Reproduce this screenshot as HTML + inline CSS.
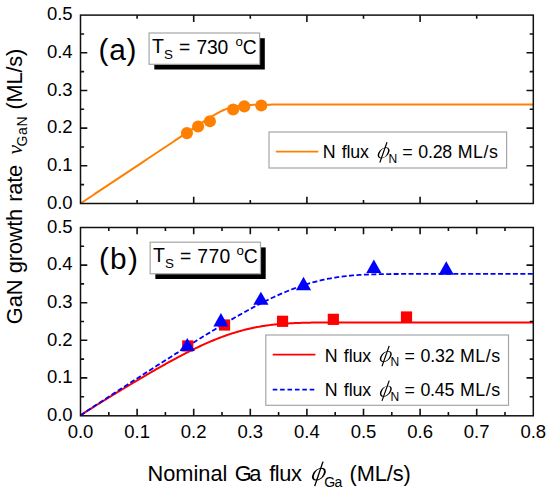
<!DOCTYPE html>
<html><head><meta charset="utf-8"><style>
html,body{margin:0;padding:0;background:#fff;width:550px;height:495px;overflow:hidden}
svg{display:block}
text{font-family:'Liberation Sans',sans-serif;fill:#000}
.phi{font-family:'Liberation Serif',serif;font-style:italic}
</style></head><body>
<svg width="550" height="495" viewBox="0 0 550 495">
<rect width="550" height="495" fill="#fff"/>
<path d="M80.50,203.50 L81.63,202.75 L82.76,201.99 L83.90,201.24 L85.03,200.49 L86.16,199.73 L87.29,198.98 L88.42,198.22 L89.56,197.47 L90.69,196.72 L91.82,195.96 L92.95,195.21 L94.08,194.46 L95.22,193.70 L96.35,192.95 L97.48,192.20 L98.61,191.44 L99.74,190.69 L100.88,189.94 L102.01,189.18 L103.14,188.43 L104.27,187.67 L105.40,186.92 L106.54,186.17 L107.67,185.41 L108.80,184.66 L109.93,183.91 L111.06,183.15 L112.20,182.40 L113.33,181.65 L114.46,180.89 L115.59,180.14 L116.72,179.38 L117.86,178.63 L118.99,177.88 L120.12,177.12 L121.25,176.37 L122.38,175.62 L123.52,174.86 L124.65,174.11 L125.78,173.36 L126.91,172.60 L128.04,171.85 L129.18,171.10 L130.31,170.34 L131.44,169.59 L132.57,168.83 L133.70,168.08 L134.84,167.33 L135.97,166.57 L137.10,165.82 L138.23,165.07 L139.36,164.31 L140.50,163.56 L141.63,162.81 L142.76,162.05 L143.89,161.30 L145.02,160.54 L146.16,159.79 L147.29,159.04 L148.42,158.28 L149.55,157.53 L150.68,156.78 L151.82,156.02 L152.95,155.27 L154.08,154.52 L155.21,153.76 L156.34,153.01 L157.48,152.26 L158.61,151.50 L159.74,150.75 L160.87,149.99 L162.00,149.24 L163.14,148.49 L164.27,147.73 L165.40,146.98 L166.53,146.23 L167.66,145.47 L168.80,144.72 L169.93,143.97 L171.06,143.21 L172.19,142.46 L173.32,141.71 L174.46,140.95 L175.59,140.20 L176.72,139.44 L177.85,138.69 L178.98,137.94 L180.12,137.18 L181.25,136.43 L182.38,135.68 L183.51,134.92 L184.64,134.17 L185.78,133.42 L186.91,132.67 L188.04,131.91 L189.17,131.16 L190.30,130.41 L191.44,129.66 L192.57,128.91 L193.70,128.16 L194.83,127.41 L195.96,126.66 L197.10,125.91 L198.23,125.16 L199.36,124.42 L200.49,123.67 L201.62,122.93 L202.76,122.19 L203.89,121.46 L205.02,120.72 L206.15,119.99 L207.28,119.27 L208.42,118.55 L209.55,117.84 L210.68,117.13 L211.81,116.44 L212.94,115.75 L214.08,115.07 L215.21,114.41 L216.34,113.76 L217.47,113.13 L218.60,112.51 L219.74,111.92 L220.87,111.35 L222.00,110.79 L223.13,110.27 L224.26,109.77 L225.40,109.30 L226.53,108.85 L227.66,108.44 L228.79,108.05 L229.92,107.69 L231.06,107.37 L232.19,107.07 L233.32,106.79 L234.45,106.55 L235.58,106.32 L236.72,106.12 L237.85,105.94 L238.98,105.78 L240.11,105.64 L241.24,105.52 L242.38,105.41 L243.51,105.31 L244.64,105.22 L245.77,105.14 L246.90,105.08 L248.04,105.02 L249.17,104.97 L250.30,104.92 L251.43,104.88 L252.56,104.85 L253.70,104.81 L254.83,104.79 L255.96,104.76 L257.09,104.74 L258.22,104.73 L259.36,104.71 L260.49,104.70 L261.62,104.68 L262.75,104.67 L263.88,104.66 L265.02,104.65 L266.15,104.65 L267.28,104.64 L268.41,104.63 L269.54,104.63 L270.68,104.63 L271.81,104.62 L272.94,104.62 L274.07,104.61 L275.20,104.61 L276.34,104.61 L277.47,104.61 L278.60,104.61 L279.73,104.60 L280.86,104.60 L282.00,104.60 L283.13,104.60 L284.26,104.60 L285.39,104.60 L286.52,104.60 L287.66,104.60 L288.79,104.60 L289.92,104.60 L291.05,104.59 L292.18,104.59 L293.32,104.59 L294.45,104.59 L295.58,104.59 L296.71,104.59 L297.84,104.59 L298.98,104.59 L300.11,104.59 L301.24,104.59 L302.37,104.59 L303.50,104.59 L304.64,104.59 L305.77,104.59 L306.90,104.59 L308.03,104.59 L309.16,104.59 L310.30,104.59 L311.43,104.59 L312.56,104.59 L313.69,104.59 L314.82,104.59 L315.96,104.59 L317.09,104.59 L318.22,104.59 L319.35,104.59 L320.48,104.59 L321.62,104.59 L322.75,104.59 L323.88,104.59 L325.01,104.59 L326.14,104.59 L327.28,104.59 L328.41,104.59 L329.54,104.59 L330.67,104.59 L331.80,104.59 L332.94,104.59 L334.07,104.59 L335.20,104.59 L336.33,104.59 L337.46,104.59 L338.60,104.59 L339.73,104.59 L340.86,104.59 L341.99,104.59 L343.12,104.59 L344.26,104.59 L345.39,104.59 L346.52,104.59 L347.65,104.59 L348.78,104.59 L349.92,104.59 L351.05,104.59 L352.18,104.59 L353.31,104.59 L354.44,104.59 L355.58,104.59 L356.71,104.59 L357.84,104.59 L358.97,104.59 L360.10,104.59 L361.24,104.59 L362.37,104.59 L363.50,104.59 L364.63,104.59 L365.76,104.59 L366.90,104.59 L368.03,104.59 L369.16,104.59 L370.29,104.59 L371.42,104.59 L372.56,104.59 L373.69,104.59 L374.82,104.59 L375.95,104.59 L377.08,104.59 L378.22,104.59 L379.35,104.59 L380.48,104.59 L381.61,104.59 L382.74,104.59 L383.88,104.59 L385.01,104.59 L386.14,104.59 L387.27,104.59 L388.40,104.59 L389.54,104.59 L390.67,104.59 L391.80,104.59 L392.93,104.59 L394.06,104.59 L395.20,104.59 L396.33,104.59 L397.46,104.59 L398.59,104.59 L399.72,104.59 L400.86,104.59 L401.99,104.59 L403.12,104.59 L404.25,104.59 L405.38,104.59 L406.52,104.59 L407.65,104.59 L408.78,104.59 L409.91,104.59 L411.04,104.59 L412.18,104.59 L413.31,104.59 L414.44,104.59 L415.57,104.59 L416.70,104.59 L417.84,104.59 L418.97,104.59 L420.10,104.59 L421.23,104.59 L422.36,104.59 L423.50,104.59 L424.63,104.59 L425.76,104.59 L426.89,104.59 L428.02,104.59 L429.16,104.59 L430.29,104.59 L431.42,104.59 L432.55,104.59 L433.68,104.59 L434.82,104.59 L435.95,104.59 L437.08,104.59 L438.21,104.59 L439.34,104.59 L440.48,104.59 L441.61,104.59 L442.74,104.59 L443.87,104.59 L445.00,104.59 L446.14,104.59 L447.27,104.59 L448.40,104.59 L449.53,104.59 L450.66,104.59 L451.80,104.59 L452.93,104.59 L454.06,104.59 L455.19,104.59 L456.32,104.59 L457.46,104.59 L458.59,104.59 L459.72,104.59 L460.85,104.59 L461.98,104.59 L463.12,104.59 L464.25,104.59 L465.38,104.59 L466.51,104.59 L467.64,104.59 L468.78,104.59 L469.91,104.59 L471.04,104.59 L472.17,104.59 L473.30,104.59 L474.44,104.59 L475.57,104.59 L476.70,104.59 L477.83,104.59 L478.96,104.59 L480.10,104.59 L481.23,104.59 L482.36,104.59 L483.49,104.59 L484.62,104.59 L485.76,104.59 L486.89,104.59 L488.02,104.59 L489.15,104.59 L490.28,104.59 L491.42,104.59 L492.55,104.59 L493.68,104.59 L494.81,104.59 L495.94,104.59 L497.08,104.59 L498.21,104.59 L499.34,104.59 L500.47,104.59 L501.60,104.59 L502.74,104.59 L503.87,104.59 L505.00,104.59 L506.13,104.59 L507.26,104.59 L508.40,104.59 L509.53,104.59 L510.66,104.59 L511.79,104.59 L512.92,104.59 L514.06,104.59 L515.19,104.59 L516.32,104.59 L517.45,104.59 L518.58,104.59 L519.72,104.59 L520.85,104.59 L521.98,104.59 L523.11,104.59 L524.24,104.59 L525.38,104.59 L526.51,104.59 L527.64,104.59 L528.77,104.59 L529.90,104.59 L531.04,104.59 L532.17,104.59 L533.30,104.59" stroke="#FF8000" stroke-width="2" fill="none"/>
<circle cx="186.95" cy="133.10" r="6.05" fill="#FF8000"/>
<circle cx="198.10" cy="126.50" r="6.05" fill="#FF8000"/>
<circle cx="209.90" cy="121.20" r="6.05" fill="#FF8000"/>
<circle cx="233.10" cy="109.50" r="6.05" fill="#FF8000"/>
<circle cx="244.30" cy="106.40" r="6.05" fill="#FF8000"/>
<circle cx="261.30" cy="105.50" r="6.05" fill="#FF8000"/>
<path d="M137.10,203.50V199.90M137.10,15.10V18.70M193.70,203.50V196.70M193.70,15.10V21.90M250.30,203.50V199.90M250.30,15.10V18.70M306.90,203.50V196.70M306.90,15.10V21.90M363.50,203.50V199.90M363.50,15.10V18.70M420.10,203.50V196.70M420.10,15.10V21.90M476.70,203.50V199.90M476.70,15.10V18.70M80.50,184.66H84.10M533.30,184.66H529.70M80.50,165.82H87.30M533.30,165.82H526.50M80.50,146.98H84.10M533.30,146.98H529.70M80.50,128.14H87.30M533.30,128.14H526.50M80.50,109.30H84.10M533.30,109.30H529.70M80.50,90.46H87.30M533.30,90.46H526.50M80.50,71.62H84.10M533.30,71.62H529.70M80.50,52.78H87.30M533.30,52.78H526.50M80.50,33.94H84.10M533.30,33.94H529.70" stroke="#111" stroke-width="1.6" fill="none"/><rect x="80.50" y="15.10" width="452.80" height="188.40" stroke="#111" stroke-width="1.5" fill="none"/>
<text x="72.6" y="208.80" font-size="18.5" text-anchor="end">0.0</text><text x="72.6" y="171.12" font-size="18.5" text-anchor="end">0.1</text><text x="72.6" y="133.44" font-size="18.5" text-anchor="end">0.2</text><text x="72.6" y="95.76" font-size="18.5" text-anchor="end">0.3</text><text x="72.6" y="58.08" font-size="18.5" text-anchor="end">0.4</text><text x="72.6" y="20.40" font-size="18.5" text-anchor="end">0.5</text>
<path d="M80.50,415.50 L81.63,414.69 L82.76,413.93 L83.90,413.17 L85.03,412.43 L86.16,411.69 L87.29,410.96 L88.42,410.23 L89.56,409.51 L90.69,408.79 L91.82,408.07 L92.95,407.35 L94.08,406.64 L95.22,405.93 L96.35,405.22 L97.48,404.51 L98.61,403.80 L99.74,403.10 L100.88,402.40 L102.01,401.69 L103.14,400.99 L104.27,400.29 L105.40,399.60 L106.54,398.90 L107.67,398.20 L108.80,397.51 L109.93,396.82 L111.06,396.12 L112.20,395.43 L113.33,394.74 L114.46,394.05 L115.59,393.36 L116.72,392.68 L117.86,391.99 L118.99,391.30 L120.12,390.62 L121.25,389.93 L122.38,389.25 L123.52,388.57 L124.65,387.89 L125.78,387.21 L126.91,386.53 L128.04,385.85 L129.18,385.17 L130.31,384.49 L131.44,383.82 L132.57,383.14 L133.70,382.47 L134.84,381.80 L135.97,381.12 L137.10,380.45 L138.23,379.78 L139.36,379.12 L140.50,378.45 L141.63,377.78 L142.76,377.12 L143.89,376.45 L145.02,375.79 L146.16,375.13 L147.29,374.47 L148.42,373.81 L149.55,373.15 L150.68,372.50 L151.82,371.84 L152.95,371.19 L154.08,370.54 L155.21,369.89 L156.34,369.24 L157.48,368.59 L158.61,367.95 L159.74,367.31 L160.87,366.67 L162.00,366.03 L163.14,365.39 L164.27,364.76 L165.40,364.12 L166.53,363.49 L167.66,362.87 L168.80,362.24 L169.93,361.62 L171.06,361.00 L172.19,360.38 L173.32,359.76 L174.46,359.15 L175.59,358.54 L176.72,357.93 L177.85,357.33 L178.98,356.72 L180.12,356.13 L181.25,355.53 L182.38,354.94 L183.51,354.35 L184.64,353.77 L185.78,353.18 L186.91,352.61 L188.04,352.03 L189.17,351.46 L190.30,350.89 L191.44,350.33 L192.57,349.77 L193.70,349.22 L194.83,348.66 L195.96,348.12 L197.10,347.58 L198.23,347.04 L199.36,346.51 L200.49,345.98 L201.62,345.45 L202.76,344.93 L203.89,344.42 L205.02,343.91 L206.15,343.41 L207.28,342.91 L208.42,342.41 L209.55,341.93 L210.68,341.44 L211.81,340.97 L212.94,340.49 L214.08,340.03 L215.21,339.57 L216.34,339.11 L217.47,338.67 L218.60,338.22 L219.74,337.79 L220.87,337.36 L222.00,336.93 L223.13,336.51 L224.26,336.10 L225.40,335.70 L226.53,335.30 L227.66,334.91 L228.79,334.52 L229.92,334.14 L231.06,333.77 L232.19,333.40 L233.32,333.04 L234.45,332.69 L235.58,332.34 L236.72,332.01 L237.85,331.67 L238.98,331.35 L240.11,331.03 L241.24,330.72 L242.38,330.41 L243.51,330.12 L244.64,329.83 L245.77,329.54 L246.90,329.27 L248.04,329.00 L249.17,328.73 L250.30,328.48 L251.43,328.23 L252.56,327.98 L253.70,327.75 L254.83,327.52 L255.96,327.30 L257.09,327.08 L258.22,326.87 L259.36,326.67 L260.49,326.47 L261.62,326.28 L262.75,326.10 L263.88,325.92 L265.02,325.75 L266.15,325.58 L267.28,325.42 L268.41,325.27 L269.54,325.12 L270.68,324.98 L271.81,324.84 L272.94,324.71 L274.07,324.58 L275.20,324.46 L276.34,324.35 L277.47,324.24 L278.60,324.13 L279.73,324.03 L280.86,323.93 L282.00,323.84 L283.13,323.75 L284.26,323.67 L285.39,323.59 L286.52,323.52 L287.66,323.44 L288.79,323.38 L289.92,323.31 L291.05,323.25 L292.18,323.20 L293.32,323.14 L294.45,323.09 L295.58,323.04 L296.71,323.00 L297.84,322.96 L298.98,322.92 L300.11,322.88 L301.24,322.84 L302.37,322.81 L303.50,322.78 L304.64,322.75 L305.77,322.73 L306.90,322.70 L308.03,322.68 L309.16,322.66 L310.30,322.64 L311.43,322.62 L312.56,322.61 L313.69,322.59 L314.82,322.58 L315.96,322.56 L317.09,322.55 L318.22,322.54 L319.35,322.53 L320.48,322.52 L321.62,322.51 L322.75,322.51 L323.88,322.50 L325.01,322.49 L326.14,322.49 L327.28,322.48 L328.41,322.48 L329.54,322.47 L330.67,322.47 L331.80,322.47 L332.94,322.46 L334.07,322.46 L335.20,322.46 L336.33,322.46 L337.46,322.45 L338.60,322.45 L339.73,322.45 L340.86,322.45 L341.99,322.45 L343.12,322.45 L344.26,322.45 L345.39,322.45 L346.52,322.44 L347.65,322.44 L348.78,322.44 L349.92,322.44 L351.05,322.44 L352.18,322.44 L353.31,322.44 L354.44,322.44 L355.58,322.44 L356.71,322.44 L357.84,322.44 L358.97,322.44 L360.10,322.44 L361.24,322.44 L362.37,322.44 L363.50,322.44 L364.63,322.44 L365.76,322.44 L366.90,322.44 L368.03,322.44 L369.16,322.44 L370.29,322.44 L371.42,322.44 L372.56,322.44 L373.69,322.44 L374.82,322.44 L375.95,322.44 L377.08,322.44 L378.22,322.44 L379.35,322.44 L380.48,322.44 L381.61,322.44 L382.74,322.44 L383.88,322.44 L385.01,322.44 L386.14,322.44 L387.27,322.44 L388.40,322.44 L389.54,322.44 L390.67,322.44 L391.80,322.44 L392.93,322.44 L394.06,322.44 L395.20,322.44 L396.33,322.44 L397.46,322.44 L398.59,322.44 L399.72,322.44 L400.86,322.44 L401.99,322.44 L403.12,322.44 L404.25,322.44 L405.38,322.44 L406.52,322.44 L407.65,322.44 L408.78,322.44 L409.91,322.44 L411.04,322.44 L412.18,322.44 L413.31,322.44 L414.44,322.44 L415.57,322.44 L416.70,322.44 L417.84,322.44 L418.97,322.44 L420.10,322.44 L421.23,322.44 L422.36,322.44 L423.50,322.44 L424.63,322.44 L425.76,322.44 L426.89,322.44 L428.02,322.44 L429.16,322.44 L430.29,322.44 L431.42,322.44 L432.55,322.44 L433.68,322.44 L434.82,322.44 L435.95,322.44 L437.08,322.44 L438.21,322.44 L439.34,322.44 L440.48,322.44 L441.61,322.44 L442.74,322.44 L443.87,322.44 L445.00,322.44 L446.14,322.44 L447.27,322.44 L448.40,322.44 L449.53,322.44 L450.66,322.44 L451.80,322.44 L452.93,322.44 L454.06,322.44 L455.19,322.44 L456.32,322.44 L457.46,322.44 L458.59,322.44 L459.72,322.44 L460.85,322.44 L461.98,322.44 L463.12,322.44 L464.25,322.44 L465.38,322.44 L466.51,322.44 L467.64,322.44 L468.78,322.44 L469.91,322.44 L471.04,322.44 L472.17,322.44 L473.30,322.44 L474.44,322.44 L475.57,322.44 L476.70,322.44 L477.83,322.44 L478.96,322.44 L480.10,322.44 L481.23,322.44 L482.36,322.44 L483.49,322.44 L484.62,322.44 L485.76,322.44 L486.89,322.44 L488.02,322.44 L489.15,322.44 L490.28,322.44 L491.42,322.44 L492.55,322.44 L493.68,322.44 L494.81,322.44 L495.94,322.44 L497.08,322.44 L498.21,322.44 L499.34,322.44 L500.47,322.44 L501.60,322.44 L502.74,322.44 L503.87,322.44 L505.00,322.44 L506.13,322.44 L507.26,322.44 L508.40,322.44 L509.53,322.44 L510.66,322.44 L511.79,322.44 L512.92,322.44 L514.06,322.44 L515.19,322.44 L516.32,322.44 L517.45,322.44 L518.58,322.44 L519.72,322.44 L520.85,322.44 L521.98,322.44 L523.11,322.44 L524.24,322.44 L525.38,322.44 L526.51,322.44 L527.64,322.44 L528.77,322.44 L529.90,322.44 L531.04,322.44 L532.17,322.44 L533.30,322.44" stroke="#FF0000" stroke-width="2" fill="none"/>
<path d="M80.50,415.50 L81.63,414.70 L82.76,413.92 L83.90,413.15 L85.03,412.39 L86.16,411.63 L87.29,410.87 L88.42,410.11 L89.56,409.36 L90.69,408.60 L91.82,407.85 L92.95,407.10 L94.08,406.35 L95.22,405.61 L96.35,404.86 L97.48,404.11 L98.61,403.37 L99.74,402.63 L100.88,401.88 L102.01,401.14 L103.14,400.40 L104.27,399.66 L105.40,398.92 L106.54,398.18 L107.67,397.44 L108.80,396.70 L109.93,395.97 L111.06,395.23 L112.20,394.49 L113.33,393.76 L114.46,393.02 L115.59,392.29 L116.72,391.55 L117.86,390.82 L118.99,390.09 L120.12,389.35 L121.25,388.62 L122.38,387.89 L123.52,387.15 L124.65,386.42 L125.78,385.69 L126.91,384.96 L128.04,384.23 L129.18,383.50 L130.31,382.77 L131.44,382.04 L132.57,381.31 L133.70,380.58 L134.84,379.85 L135.97,379.13 L137.10,378.40 L138.23,377.67 L139.36,376.94 L140.50,376.22 L141.63,375.49 L142.76,374.76 L143.89,374.04 L145.02,373.31 L146.16,372.58 L147.29,371.86 L148.42,371.13 L149.55,370.41 L150.68,369.69 L151.82,368.96 L152.95,368.24 L154.08,367.51 L155.21,366.79 L156.34,366.07 L157.48,365.35 L158.61,364.62 L159.74,363.90 L160.87,363.18 L162.00,362.46 L163.14,361.74 L164.27,361.02 L165.40,360.30 L166.53,359.58 L167.66,358.86 L168.80,358.14 L169.93,357.42 L171.06,356.71 L172.19,355.99 L173.32,355.27 L174.46,354.56 L175.59,353.84 L176.72,353.12 L177.85,352.41 L178.98,351.69 L180.12,350.98 L181.25,350.27 L182.38,349.55 L183.51,348.84 L184.64,348.13 L185.78,347.42 L186.91,346.71 L188.04,346.00 L189.17,345.29 L190.30,344.58 L191.44,343.87 L192.57,343.17 L193.70,342.46 L194.83,341.75 L195.96,341.05 L197.10,340.35 L198.23,339.64 L199.36,338.94 L200.49,338.24 L201.62,337.54 L202.76,336.84 L203.89,336.14 L205.02,335.45 L206.15,334.75 L207.28,334.06 L208.42,333.36 L209.55,332.67 L210.68,331.98 L211.81,331.29 L212.94,330.60 L214.08,329.92 L215.21,329.23 L216.34,328.55 L217.47,327.86 L218.60,327.18 L219.74,326.50 L220.87,325.83 L222.00,325.15 L223.13,324.47 L224.26,323.80 L225.40,323.13 L226.53,322.46 L227.66,321.80 L228.79,321.13 L229.92,320.47 L231.06,319.81 L232.19,319.15 L233.32,318.49 L234.45,317.84 L235.58,317.19 L236.72,316.54 L237.85,315.89 L238.98,315.25 L240.11,314.61 L241.24,313.97 L242.38,313.33 L243.51,312.70 L244.64,312.07 L245.77,311.44 L246.90,310.82 L248.04,310.20 L249.17,309.58 L250.30,308.96 L251.43,308.35 L252.56,307.75 L253.70,307.14 L254.83,306.54 L255.96,305.94 L257.09,305.35 L258.22,304.76 L259.36,304.17 L260.49,303.59 L261.62,303.02 L262.75,302.44 L263.88,301.87 L265.02,301.31 L266.15,300.75 L267.28,300.19 L268.41,299.64 L269.54,299.09 L270.68,298.55 L271.81,298.01 L272.94,297.48 L274.07,296.95 L275.20,296.43 L276.34,295.91 L277.47,295.40 L278.60,294.89 L279.73,294.39 L280.86,293.89 L282.00,293.40 L283.13,292.92 L284.26,292.44 L285.39,291.96 L286.52,291.49 L287.66,291.03 L288.79,290.58 L289.92,290.12 L291.05,289.68 L292.18,289.24 L293.32,288.81 L294.45,288.39 L295.58,287.97 L296.71,287.55 L297.84,287.15 L298.98,286.75 L300.11,286.35 L301.24,285.97 L302.37,285.59 L303.50,285.21 L304.64,284.85 L305.77,284.49 L306.90,284.13 L308.03,283.79 L309.16,283.45 L310.30,283.11 L311.43,282.79 L312.56,282.47 L313.69,282.16 L314.82,281.85 L315.96,281.56 L317.09,281.26 L318.22,280.98 L319.35,280.70 L320.48,280.43 L321.62,280.17 L322.75,279.91 L323.88,279.66 L325.01,279.42 L326.14,279.18 L327.28,278.95 L328.41,278.73 L329.54,278.51 L330.67,278.30 L331.80,278.10 L332.94,277.90 L334.07,277.71 L335.20,277.53 L336.33,277.35 L337.46,277.18 L338.60,277.02 L339.73,276.86 L340.86,276.70 L341.99,276.56 L343.12,276.41 L344.26,276.28 L345.39,276.15 L346.52,276.02 L347.65,275.90 L348.78,275.79 L349.92,275.68 L351.05,275.57 L352.18,275.47 L353.31,275.37 L354.44,275.28 L355.58,275.20 L356.71,275.11 L357.84,275.04 L358.97,274.96 L360.10,274.89 L361.24,274.83 L362.37,274.76 L363.50,274.70 L364.63,274.65 L365.76,274.60 L366.90,274.55 L368.03,274.50 L369.16,274.46 L370.29,274.42 L371.42,274.38 L372.56,274.34 L373.69,274.31 L374.82,274.28 L375.95,274.25 L377.08,274.22 L378.22,274.20 L379.35,274.17 L380.48,274.15 L381.61,274.13 L382.74,274.11 L383.88,274.10 L385.01,274.08 L386.14,274.07 L387.27,274.06 L388.40,274.04 L389.54,274.03 L390.67,274.02 L391.80,274.01 L392.93,274.01 L394.06,274.00 L395.20,273.99 L396.33,273.99 L397.46,273.98 L398.59,273.97 L399.72,273.97 L400.86,273.97 L401.99,273.96 L403.12,273.96 L404.25,273.96 L405.38,273.95 L406.52,273.95 L407.65,273.95 L408.78,273.95 L409.91,273.95 L411.04,273.95 L412.18,273.94 L413.31,273.94 L414.44,273.94 L415.57,273.94 L416.70,273.94 L417.84,273.94 L418.97,273.94 L420.10,273.94 L421.23,273.94 L422.36,273.94 L423.50,273.94 L424.63,273.94 L425.76,273.94 L426.89,273.94 L428.02,273.94 L429.16,273.94 L430.29,273.94 L431.42,273.94 L432.55,273.94 L433.68,273.94 L434.82,273.94 L435.95,273.94 L437.08,273.94 L438.21,273.94 L439.34,273.94 L440.48,273.94 L441.61,273.94 L442.74,273.94 L443.87,273.94 L445.00,273.94 L446.14,273.94 L447.27,273.94 L448.40,273.94 L449.53,273.94 L450.66,273.94 L451.80,273.94 L452.93,273.94 L454.06,273.94 L455.19,273.94 L456.32,273.94 L457.46,273.94 L458.59,273.94 L459.72,273.94 L460.85,273.94 L461.98,273.94 L463.12,273.94 L464.25,273.94 L465.38,273.94 L466.51,273.94 L467.64,273.94 L468.78,273.94 L469.91,273.94 L471.04,273.94 L472.17,273.94 L473.30,273.94 L474.44,273.94 L475.57,273.94 L476.70,273.94 L477.83,273.94 L478.96,273.94 L480.10,273.94 L481.23,273.94 L482.36,273.94 L483.49,273.94 L484.62,273.94 L485.76,273.94 L486.89,273.94 L488.02,273.94 L489.15,273.94 L490.28,273.94 L491.42,273.94 L492.55,273.94 L493.68,273.94 L494.81,273.94 L495.94,273.94 L497.08,273.94 L498.21,273.94 L499.34,273.94 L500.47,273.94 L501.60,273.94 L502.74,273.94 L503.87,273.94 L505.00,273.94 L506.13,273.94 L507.26,273.94 L508.40,273.94 L509.53,273.94 L510.66,273.94 L511.79,273.94 L512.92,273.94 L514.06,273.94 L515.19,273.94 L516.32,273.94 L517.45,273.94 L518.58,273.94 L519.72,273.94 L520.85,273.94 L521.98,273.94 L523.11,273.94 L524.24,273.94 L525.38,273.94 L526.51,273.94 L527.64,273.94 L528.77,273.94 L529.90,273.94 L531.04,273.94 L532.17,273.94 L533.30,273.94" stroke="#0000FF" stroke-width="1.8" fill="none" stroke-dasharray="5 2.45"/>
<rect x="182.15" y="340.35" width="11.2" height="11.2" fill="#FF0000"/>
<rect x="218.95" y="319.40" width="11.2" height="11.2" fill="#FF0000"/>
<rect x="276.95" y="315.70" width="11.2" height="11.2" fill="#FF0000"/>
<rect x="327.73" y="313.75" width="11.2" height="11.2" fill="#FF0000"/>
<rect x="400.90" y="311.40" width="11.2" height="11.2" fill="#FF0000"/>
<path d="M187.30,338.00 L194.90,351.10 L179.70,351.10 Z" fill="#0000FF"/>
<path d="M220.95,313.10 L228.55,326.40 L213.35,326.40 Z" fill="#0000FF"/>
<path d="M260.90,291.80 L268.50,304.70 L253.30,304.70 Z" fill="#0000FF"/>
<path d="M303.50,276.80 L311.10,290.20 L295.90,290.20 Z" fill="#0000FF"/>
<path d="M373.85,259.50 L381.45,272.90 L366.25,272.90 Z" fill="#0000FF"/>
<path d="M446.25,261.20 L453.85,274.70 L438.65,274.70 Z" fill="#0000FF"/>
<path d="M108.80,415.50V411.90M108.80,227.50V231.10M137.10,415.50V408.70M137.10,227.50V234.30M165.40,415.50V411.90M165.40,227.50V231.10M193.70,415.50V408.70M193.70,227.50V234.30M222.00,415.50V411.90M222.00,227.50V231.10M250.30,415.50V408.70M250.30,227.50V234.30M278.60,415.50V411.90M278.60,227.50V231.10M306.90,415.50V408.70M306.90,227.50V234.30M335.20,415.50V411.90M335.20,227.50V231.10M363.50,415.50V408.70M363.50,227.50V234.30M391.80,415.50V411.90M391.80,227.50V231.10M420.10,415.50V408.70M420.10,227.50V234.30M448.40,415.50V411.90M448.40,227.50V231.10M476.70,415.50V408.70M476.70,227.50V234.30M505.00,415.50V411.90M505.00,227.50V231.10M80.50,396.70H84.10M533.30,396.70H529.70M80.50,377.90H87.30M533.30,377.90H526.50M80.50,359.10H84.10M533.30,359.10H529.70M80.50,340.30H87.30M533.30,340.30H526.50M80.50,321.50H84.10M533.30,321.50H529.70M80.50,302.70H87.30M533.30,302.70H526.50M80.50,283.90H84.10M533.30,283.90H529.70M80.50,265.10H87.30M533.30,265.10H526.50M80.50,246.30H84.10M533.30,246.30H529.70" stroke="#111" stroke-width="1.6" fill="none"/><rect x="80.50" y="227.50" width="452.80" height="188.30" stroke="#111" stroke-width="1.5" fill="none"/>
<text x="72.6" y="420.80" font-size="18.5" text-anchor="end">0.0</text><text x="72.6" y="383.20" font-size="18.5" text-anchor="end">0.1</text><text x="72.6" y="345.60" font-size="18.5" text-anchor="end">0.2</text><text x="72.6" y="308.00" font-size="18.5" text-anchor="end">0.3</text><text x="72.6" y="270.40" font-size="18.5" text-anchor="end">0.4</text><text x="72.6" y="232.80" font-size="18.5" text-anchor="end">0.5</text>
<text x="80.50" y="437.8" font-size="18.5" text-anchor="middle">0.0</text>
<text x="137.10" y="437.8" font-size="18.5" text-anchor="middle">0.1</text>
<text x="193.70" y="437.8" font-size="18.5" text-anchor="middle">0.2</text>
<text x="250.30" y="437.8" font-size="18.5" text-anchor="middle">0.3</text>
<text x="306.90" y="437.8" font-size="18.5" text-anchor="middle">0.4</text>
<text x="363.50" y="437.8" font-size="18.5" text-anchor="middle">0.5</text>
<text x="420.10" y="437.8" font-size="18.5" text-anchor="middle">0.6</text>
<text x="476.70" y="437.8" font-size="18.5" text-anchor="middle">0.7</text>
<text x="533.30" y="437.8" font-size="18.5" text-anchor="middle">0.8</text>
<text x="147.51" y="480.70" font-size="21.80">Nominal</text>
<text x="234.80" y="480.70" font-size="21.80" letter-spacing="-2.38">Ga</text>
<text x="269.19" y="480.70" font-size="21.80" letter-spacing="-0.43">flux</text>
<g transform="translate(318.85,474.15) skewX(-25)"><path d="M-6.27,0 a6.27,6.45 0 1,0 12.54,0 a6.27,6.45 0 1,0 -12.54,0 Z M-4.45,0 a4.45,5.35 0 1,1 8.90,0 a4.45,5.35 0 1,1 -8.90,0 Z" fill="#000" fill-rule="evenodd"/></g><line x1="323.00" y1="461.60" x2="314.70" y2="486.10" stroke="#000" stroke-width="1.40"/>
<text x="324.20" y="486.60" font-size="14.00" letter-spacing="-0.67">Ga</text>
<text x="349.45" y="480.70" font-size="21.80" letter-spacing="-0.07">(ML/s)</text>
<text transform="rotate(-90)" x="-324.30" y="22.00" font-size="21.80" letter-spacing="-0.03">GaN</text>
<text transform="rotate(-90)" x="-273.22" y="22.00" font-size="21.80" letter-spacing="-0.20">growth</text>
<text transform="rotate(-90)" x="-201.75" y="22.00" font-size="21.80" letter-spacing="-0.25">rate</text>
<text class="phi" transform="rotate(-90)" x="-154.39" y="21.70" font-size="21.50">ν</text>
<text transform="rotate(-90)" x="-146.50" y="27.40" font-size="14.00" letter-spacing="0.68">GaN</text>
<text transform="rotate(-90)" x="-109.55" y="22.00" font-size="21.80" letter-spacing="-0.17">(ML/s)</text>
<text x="98.45" y="60.00" font-size="29.80" letter-spacing="0.84">(a)</text>
<text x="98.90" y="268.90" font-size="29.80" letter-spacing="1.31">(b)</text>
<rect x="154.30" y="38.20" width="110.50" height="31.30" fill="#000"/><rect x="149.10" y="33.00" width="110.50" height="31.30" fill="#fff" stroke="#a6a6a6" stroke-width="1.2"/><text x="151.96" y="53.20" font-size="19.50">T</text><text x="164.09" y="58.80" font-size="13.40">S</text><text x="178.96" y="53.50" font-size="19.30">=</text><text x="196.61" y="53.50" font-size="19.30" letter-spacing="-0.33">730</text><text x="235.54" y="46.20" font-size="13.30">o</text><text x="242.72" y="53.50" font-size="19.30">C</text>
<rect x="155.35" y="247.40" width="110.35" height="31.60" fill="#000"/><rect x="150.15" y="242.20" width="110.35" height="31.60" fill="#fff" stroke="#a6a6a6" stroke-width="1.2"/><text x="152.96" y="262.40" font-size="19.50">T</text><text x="165.09" y="268.00" font-size="13.40">S</text><text x="179.96" y="262.70" font-size="19.30">=</text><text x="197.31" y="262.70" font-size="19.30" letter-spacing="0.42">770</text><text x="236.54" y="255.40" font-size="13.30">o</text><text x="243.72" y="262.70" font-size="19.30">C</text>
<rect x="269.00" y="132.00" width="237.60" height="36.00" fill="#fff" stroke="#a6a6a6" stroke-width="1.2"/>
<line x1="275.8" y1="151.7" x2="318.3" y2="151.7" stroke="#FF8000" stroke-width="1.7"/>
<text x="322.64" y="157.90" font-size="17.80">N</text><text x="341.65" y="157.90" font-size="17.80" letter-spacing="-0.12">flux</text><g transform="translate(383.60,152.90) skewX(-25)"><path d="M-5.39,0 a5.39,5.55 0 1,0 10.78,0 a5.39,5.55 0 1,0 -10.78,0 Z M-3.83,0 a3.83,4.60 0 1,1 7.65,0 a3.83,4.60 0 1,1 -7.65,0 Z" fill="#000" fill-rule="evenodd"/></g><line x1="387.00" y1="142.30" x2="379.80" y2="162.60" stroke="#000" stroke-width="1.20"/><text x="388.42" y="162.50" font-size="12.00">N</text><text x="402.23" y="157.90" font-size="17.80">=</text><text x="418.20" y="157.90" font-size="17.80" letter-spacing="-0.19">0.28</text><text x="457.74" y="157.90" font-size="17.80" letter-spacing="0.54">ML/s</text>
<rect x="265.80" y="335.00" width="242.70" height="70.30" fill="#fff" stroke="#a6a6a6" stroke-width="1.2"/>
<line x1="272.7" y1="354.7" x2="315.4" y2="354.7" stroke="#FF0000" stroke-width="1.8"/>
<line x1="272.7" y1="389.7" x2="315.4" y2="389.7" stroke="#0000FF" stroke-width="1.7" stroke-dasharray="4.6 2.8"/>
<text x="324.84" y="361.50" font-size="17.80">N</text><text x="343.85" y="361.50" font-size="17.80" letter-spacing="-0.12">flux</text><g transform="translate(385.80,356.50) skewX(-25)"><path d="M-5.39,0 a5.39,5.55 0 1,0 10.78,0 a5.39,5.55 0 1,0 -10.78,0 Z M-3.83,0 a3.83,4.60 0 1,1 7.65,0 a3.83,4.60 0 1,1 -7.65,0 Z" fill="#000" fill-rule="evenodd"/></g><line x1="389.20" y1="345.90" x2="382.00" y2="366.20" stroke="#000" stroke-width="1.20"/><text x="390.62" y="366.10" font-size="12.00">N</text><text x="404.43" y="361.50" font-size="17.80">=</text><text x="420.40" y="361.50" font-size="17.80" letter-spacing="-0.15">0.32</text><text x="459.94" y="361.50" font-size="17.80" letter-spacing="0.54">ML/s</text>
<text x="324.84" y="396.20" font-size="17.80">N</text><text x="343.85" y="396.20" font-size="17.80" letter-spacing="-0.12">flux</text><g transform="translate(385.80,391.20) skewX(-25)"><path d="M-5.39,0 a5.39,5.55 0 1,0 10.78,0 a5.39,5.55 0 1,0 -10.78,0 Z M-3.83,0 a3.83,4.60 0 1,1 7.65,0 a3.83,4.60 0 1,1 -7.65,0 Z" fill="#000" fill-rule="evenodd"/></g><line x1="389.20" y1="380.60" x2="382.00" y2="400.90" stroke="#000" stroke-width="1.20"/><text x="390.62" y="400.80" font-size="12.00">N</text><text x="404.43" y="396.20" font-size="17.80">=</text><text x="420.40" y="396.20" font-size="17.80" letter-spacing="-0.20">0.45</text><text x="459.94" y="396.20" font-size="17.80" letter-spacing="0.54">ML/s</text>
</svg></body></html>
